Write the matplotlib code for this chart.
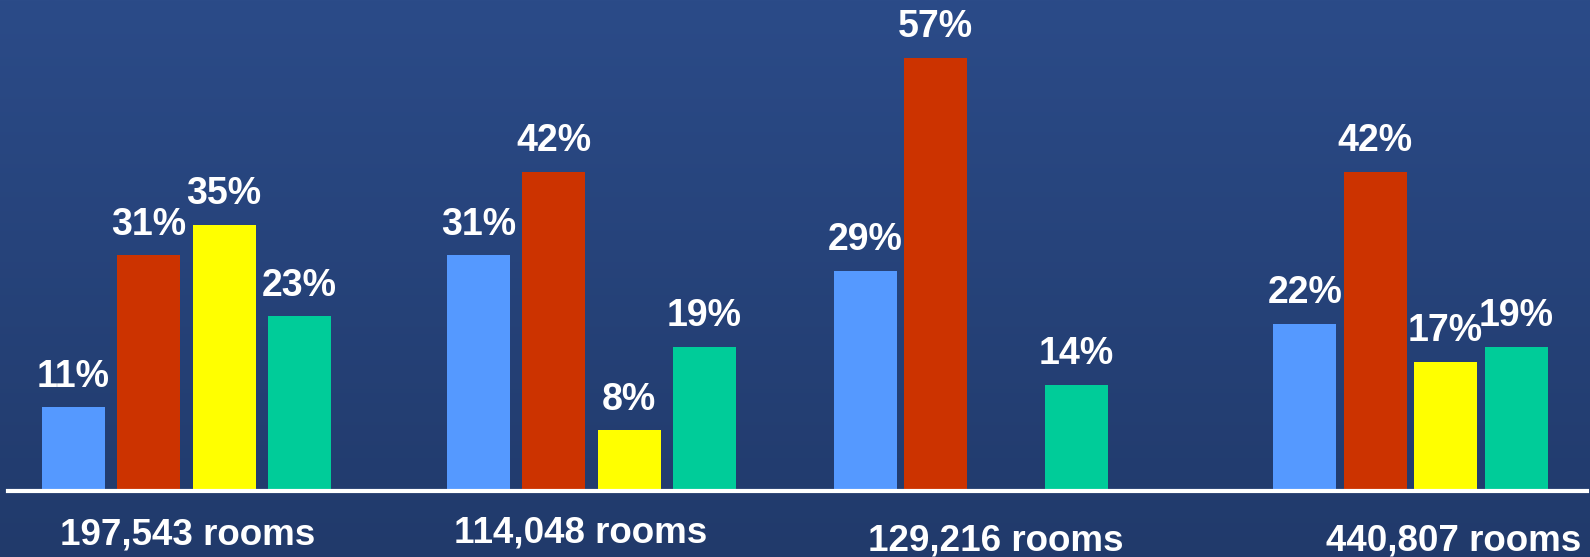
import numpy as np
import matplotlib
matplotlib.use("Agg")
import matplotlib.pyplot as plt
from matplotlib.colors import LinearSegmentedColormap

# Room totals for each property group
groups = ["197,543 rooms", "114,048 rooms", "129,216 rooms", "440,807 rooms"]

# Share (%) of each segment within a group
series_blue = [11, 31, 29, 22]
series_red = [31, 42, 57, 42]
series_yellow = [35, 8, 0, 17]
series_green = [23, 19, 14, 19]

series = [series_blue, series_red, series_yellow, series_green]
colors = ["#5599FF", "#CC3300", "#FFFF00", "#00CC99"]

# Layout: group centres, bar spacing per group and label nudges
group_pos = [0.0, 1.0, 1.937, 3.022]
bar_step = [0.186, 0.186, 0.174, 0.174]
bar_width = 0.156
room_label_dx = [0.004, -0.028, 0.062, 0.106]
room_label_dy = [-3.0, -1.0, -7.0, -7.0]

W, H, DPI = 1590, 557, 100
fig = plt.figure(figsize=(W / DPI, H / DPI), dpi=DPI)

# Vertical blue gradient background
bg = fig.add_axes([0, 0, 1, 1], zorder=0)
cmap = LinearSegmentedColormap.from_list("bg", ["#2B4B88", "#213A6B"])
grad = np.linspace(0, 1, 256).reshape(-1, 1)
bg.imshow(grad, aspect="auto", cmap=cmap, extent=[0, 1, 0, 1], origin="upper")
bg.set_axis_off()

base_px = 491
ax = fig.add_axes([8 / W, (H - base_px) / H, 1579 / W, base_px / H], zorder=1)
ax.patch.set_alpha(0)
ax.set_xlim(-0.4407, 3.458)
ax.set_ylim(0, 64.6)
ax.set_axis_off()

font = dict(family=["Liberation Sans", "DejaVu Sans"], weight="bold", color="white")

n = len(series)
for si, (vals, col) in enumerate(zip(series, colors)):
    for gi, v in enumerate(vals):
        if v <= 0:
            continue
        x = group_pos[gi] + (si - (n - 1) / 2) * bar_step[gi]
        ax.bar(x, v, width=bar_width, color=col, zorder=2, linewidth=0)
        ax.annotate(f"{v}%", xy=(x, v), xytext=(0, 22), textcoords="offset points",
                    ha="center", va="center", fontsize=27, **font)

# White baseline
ax.axhline(0, xmin=0, xmax=1, color="white", linewidth=3, zorder=3, clip_on=False)

for gi, name in enumerate(groups):
    ax.annotate(name, xy=(group_pos[gi] + room_label_dx[gi], 0),
                xytext=(0, -29 + room_label_dy[gi]), textcoords="offset points",
                ha="center", va="center", fontsize=26.5, annotation_clip=False, **font)

fig.savefig("out.png", dpi=DPI)
